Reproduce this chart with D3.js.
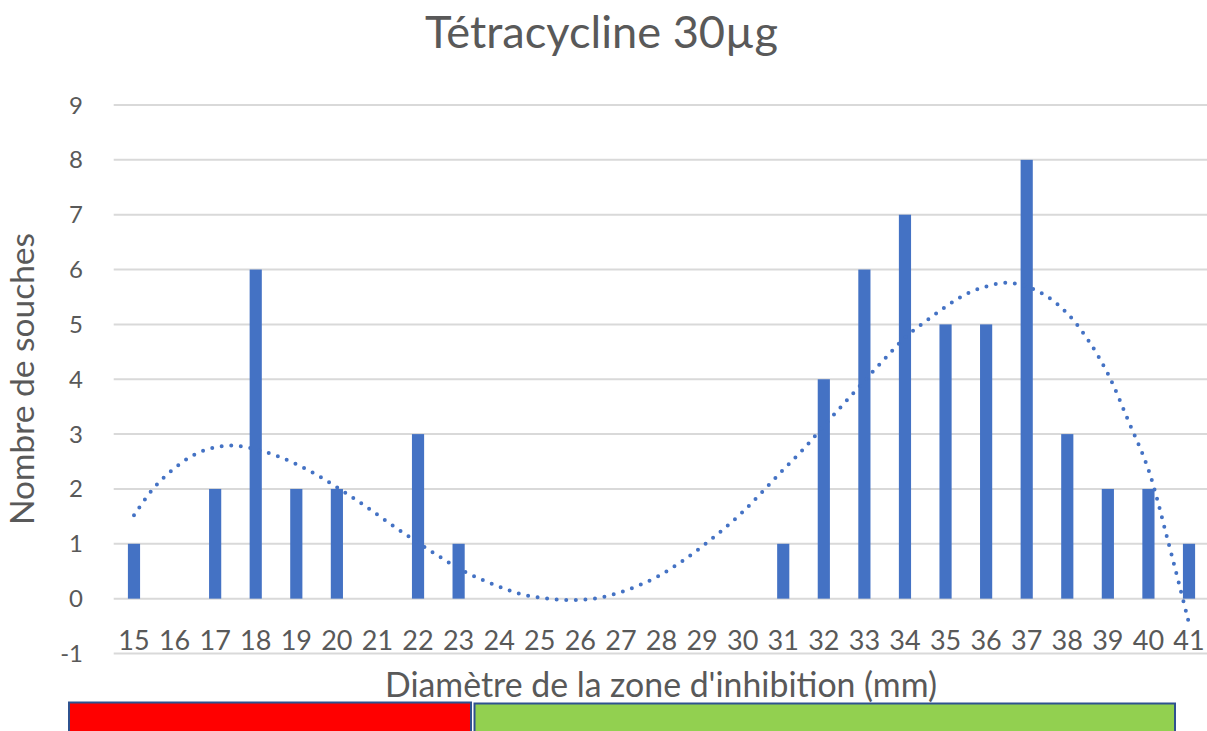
<!DOCTYPE html>
<html>
<head>
<meta charset="utf-8">
<script src="https://cdn.jsdelivr.net/npm/d3@7"></script>
<style>
  html, body { margin: 0; padding: 0; background: #fff; }
  svg { display: block; }
  text { font-family: Lato, "Open Sans", sans-serif; fill: #595959; }
</style>
</head>
<body>
<svg id="chart" width="1207" height="731"></svg>
<script>
// ---- data ----
const categories = [15,16,17,18,19,20,21,22,23,24,25,26,27,28,29,30,31,32,33,34,35,36,37,38,39,40,41];
const counts     = [1, 0, 2, 6, 2, 2, 0, 3, 1, 0, 0, 0, 0, 0, 0, 0, 1, 4, 6, 7, 5, 5, 8, 3, 2, 2, 1];
const yTicks = [-1,0,1,2,3,4,5,6,7,8,9];
// polynomial trendline (x in mm, y in count)
const trendX = [15,15.5,16,16.5,17,17.5,18,18.5,19,19.5,20,20.5,21,21.5,22,22.5,23,23.5,24,24.5,25,25.5,26,26.5,27,27.5,28,28.5,29,29.5,30,30.5,31,31.5,32,32.5,33,33.5,34,34.5,35,35.5,36,36.5,37,37.5,38,38.5,39,39.5,40,40.5,41];
const trendY = [1.52,2.03,2.38,2.63,2.76,2.79,2.72,2.61,2.45,2.26,2.03,1.79,1.53,1.27,1.02,0.78,0.55,0.37,0.22,0.09,0.02,-0.02,-0.02,0.02,0.12,0.26,0.44,0.68,0.95,1.25,1.58,1.96,2.35,2.73,3.15,3.56,3.97,4.37,4.76,5.05,5.32,5.55,5.69,5.76,5.69,5.51,5.20,4.73,4.10,3.25,2.35,1.00,-0.45];
const titleText = "Tétracycline 30µg";
const xTitle = "Diamètre de la zone d'inhibition (mm)";
const yTitle = "Nombre de souches";

// ---- layout ----
const svg = d3.select("#chart");
const plot = { left: 113.7, right: 1209.3, top: 105, bottom: 653.5 };
const barColor = "#4472C4";

const x = d3.scaleBand().domain(categories).range([plot.left, plot.right])
  .paddingInner(0.7).paddingOuter(0.35);
const y = d3.scaleLinear().domain([-1, 9]).range([plot.bottom, plot.top]);
const cx = c => x(c) + x.bandwidth() / 2;
const xLin = d3.scaleLinear()
  .domain([categories[0], categories[categories.length - 1]])
  .range([cx(categories[0]), cx(categories[categories.length - 1])]);

// gridlines
svg.append("g").selectAll("line").data(yTicks).join("line")
  .attr("x1", plot.left).attr("x2", 1207)
  .attr("y1", d => y(d)).attr("y2", d => y(d))
  .attr("stroke", "#D9D9D9").attr("stroke-width", 2);

// y tick labels
svg.append("g").selectAll("text").data(yTicks).join("text")
  .attr("x", 83).attr("y", d => y(d) + 8.5)
  .attr("text-anchor", "end").attr("font-size", 24)
  .text(d => d);

// bars
svg.append("g").selectAll("rect").data(categories).join("rect")
  .attr("x", d => x(d)).attr("width", x.bandwidth())
  .attr("y", (d, i) => y(counts[i]))
  .attr("height", (d, i) => y(0) - y(counts[i]))
  .attr("fill", barColor);

// trendline (dotted)
const line = d3.line().x(d => xLin(d[0])).y(d => y(d[1])).curve(d3.curveCatmullRom.alpha(0.5));
svg.append("path")
  .datum(trendX.map((v, i) => [v, trendY[i]]))
  .attr("d", line)
  .attr("fill", "none").attr("stroke", barColor)
  .attr("stroke-width", 4).attr("stroke-linecap", "round")
  .attr("stroke-dasharray", "0 9.6");

// x tick labels
svg.append("g").selectAll("text").data(categories).join("text")
  .attr("x", d => cx(d)).attr("y", 650)
  .attr("text-anchor", "middle").attr("font-size", 27)
  .text(d => d);

// helper: fit text to a target width
function fit(sel, target) {
  const w = sel.node().getComputedTextLength();
  const fs = parseFloat(sel.attr("font-size"));
  sel.attr("font-size", fs * target / w);
}

// title
const t = svg.append("text").attr("x", 601.5).attr("y", 48)
  .attr("text-anchor", "middle").attr("font-size", 44).text(titleText);
fit(t, 353);

// x axis title
const xt = svg.append("text").attr("x", 661).attr("y", 697)
  .attr("text-anchor", "middle").attr("font-size", 28).text(xTitle);
fit(xt, 552);

// y axis title
const yt = svg.append("text")
  .attr("transform", "translate(34,379) rotate(-90)")
  .attr("text-anchor", "middle").attr("font-size", 28).text(yTitle);
fit(yt, 292);

// zone bars under the axis (red = resistant, green = sensitive)
svg.append("rect").attr("x", 69).attr("y", 702.5).attr("width", 402).attr("height", 40)
  .attr("fill", "#FF0000").attr("stroke", "#2F528F").attr("stroke-width", 2);
svg.append("rect").attr("x", 474.5).attr("y", 703.5).attr("width", 700.5).attr("height", 40)
  .attr("fill", "#92D050").attr("stroke", "#2F528F").attr("stroke-width", 2);
</script>
</body>
</html>
